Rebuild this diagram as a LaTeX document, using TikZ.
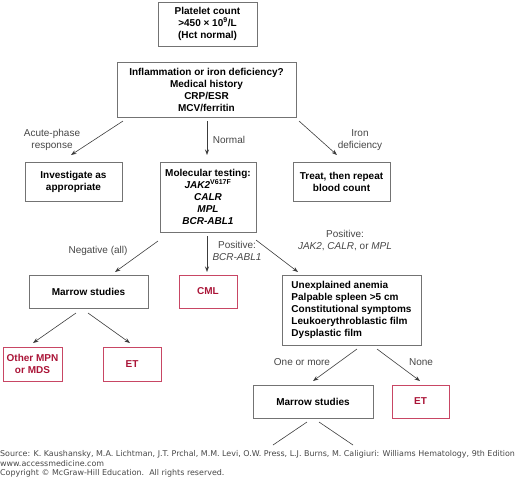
\documentclass[tikz,border=0pt]{standalone}
\usepackage{fontspec}
\setmainfont{Liberation Sans}
\newfontfamily\srcfont{DejaVu Sans}
\usetikzlibrary{arrows.meta}
\definecolor{boxgray}{RGB}{115,115,115}
\definecolor{linegray}{RGB}{60,60,60}
\definecolor{etred}{RGB}{170,20,55}
\definecolor{etredline}{RGB}{200,70,100}
\definecolor{txtgray}{RGB}{70,70,70}
\tikzset{
  box/.style={draw=boxgray, line width=0.9pt, align=center, inner sep=1pt,
    font=\fontsize{10}{12}\selectfont\bfseries, text=black},
  redbox/.style={box, draw=etredline, text=etred},
  arr/.style={draw=linegray, line width=0.6pt, -{Stealth[length=5.5pt,width=4pt]}},
  plainline/.style={draw=linegray, line width=0.6pt},
  lbl/.style={font=\fontsize{10}{12}\selectfont, text=txtgray, align=center, inner sep=0pt},
  src/.style={font=\srcfont\fontsize{7.95}{9.5}\selectfont, text=txtgray, anchor=west, inner sep=0pt}
}
\begin{document}
\begin{tikzpicture}[x=1pt,y=-1pt]
\useasboundingbox (0,0) rectangle (520,477);
% boxes
\node[box, minimum width=99pt, minimum height=44pt] (top) at (207.5,24) {Platelet count\\>450 × 10\textsuperscript{9}/L\\(Hct normal)};
\node[box, minimum width=179pt, minimum height=55pt] (q) at (206.5,89.5) {Inflammation or iron deficiency?\\Medical history\\CRP/ESR\\MCV/ferritin};
\node[box, minimum width=97pt, minimum height=39pt] (inv) at (73.5,181.5) {Investigate as\\appropriate};
\node[box, minimum width=96pt, minimum height=70pt] (mol) at (208,197) {Molecular testing:\\\textit{JAK2}\textsuperscript{V617F}\\\textit{CALR}\\\textit{MPL}\\\textit{BCR-ABL1}};
\node[box, minimum width=97pt, minimum height=39pt] (treat) at (341.5,181.5) {Treat, then repeat\\blood count};
\node[box, minimum width=119pt, minimum height=33pt] (m1) at (88.5,291.5) {Marrow studies};
\node[redbox, minimum width=58pt, minimum height=33pt] (cml) at (208,291.5) {CML};
\node[box, minimum width=139pt, minimum height=70pt, align=left] (un) at (351.5,310) {Unexplained anemia\\Palpable spleen >5 cm\\Constitutional symptoms\\Leukoerythroblastic film\\Dysplastic film};
\node[redbox, minimum width=59pt, minimum height=34pt] (oth) at (32.5,364) {Other MPN\\or MDS};
\node[redbox, minimum width=58pt, minimum height=34pt] (et1) at (132,364) {ET};
\node[box, minimum width=120pt, minimum height=33pt] (m2) at (313,401.5) {Marrow studies};
\node[redbox, minimum width=57pt, minimum height=33pt] (et2) at (420.5,401.5) {ET};
% connector coordinates
\coordinate (qa) at (123,121);
\coordinate (qb) at (207,121);
\coordinate (qc) at (299,121);
\coordinate (qae) at (71,155);
\coordinate (qbe) at (207,155);
\coordinate (qce) at (337,155);
\coordinate (ma) at (158,241);
\coordinate (mb) at (207,236);
\coordinate (mc) at (256,240);
\coordinate (mae) at (115,272);
\coordinate (mbe) at (207,272);
\coordinate (mce) at (298,272);
\coordinate (la) at (76,313);
\coordinate (lb) at (88,313);
\coordinate (lae) at (33,343);
\coordinate (lbe) at (130,343);
\coordinate (ua) at (357,349);
\coordinate (ub) at (377,349);
\coordinate (uae) at (313,381);
\coordinate (ube) at (420,381);
\coordinate (ba) at (307,422);
\coordinate (bb) at (319,422);
\coordinate (bae) at (273,445);
\coordinate (bbe) at (353,445);
% connectors
\draw[arr] (qa) -- (qae);
\draw[arr] (qb) -- (qbe);
\draw[arr] (qc) -- (qce);
\draw[arr] (ma) -- (mae);
\draw[arr] (mb) -- (mbe);
\draw[arr] (mc) -- (mce);
\draw[arr] (la) -- (lae);
\draw[arr] (lb) -- (lbe);
\draw[arr] (ua) -- (uae);
\draw[arr] (ub) -- (ube);
\draw[plainline] (ba) -- (bae);
\draw[plainline] (bb) -- (bbe);
% labels
\node[lbl] (l1) at (52,140) {Acute-phase\\response};
\node[lbl] (l2) at (229,140) {Normal};
\node[lbl] (l3) at (360,140) {Iron\\deficiency};
\node[lbl] (l4) at (98,251) {Negative (all)};
\node[lbl] (l5) at (237,251) {Positive:\\\textit{BCR-ABL1}};
\node[lbl] (l6) at (345,241) {Positive:\\\textit{JAK2}, \textit{CALR}, or \textit{MPL}};
\node[lbl] (l7) at (302,362) {One or more};
\node[lbl] (l8) at (421,362) {None};
% source
\node[src] (s1) at (0,454) {Source: K. Kaushansky, M.A. Lichtman, J.T. Prchal, M.M. Levi, O.W. Press, L.J. Burns, M. Caligiuri: Williams Hematology, 9th Edition};
\node[src] (s2) at (0,463.5) {www.accessmedicine.com};
\node[src] (s3) at (0,473) {Copyright © McGraw-Hill Education.\ \ All rights reserved.};
\end{tikzpicture}
\end{document}
